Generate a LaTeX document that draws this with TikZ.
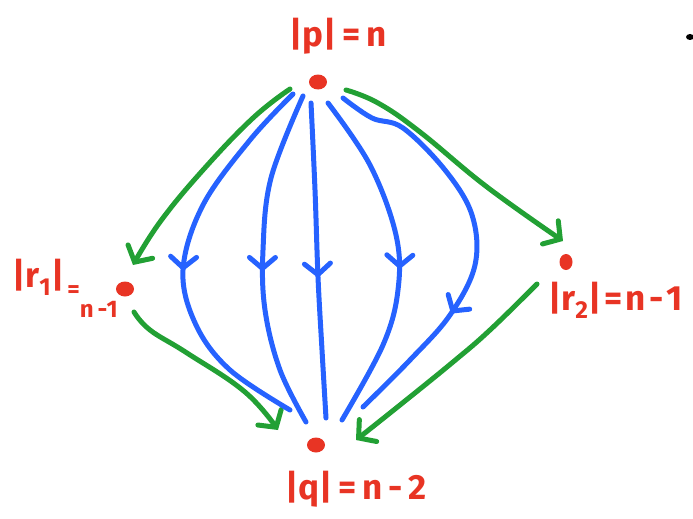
\documentclass[tikz,border=0pt]{standalone}
\usepackage{fontspec}
\setmainfont{Fira Sans}
\usetikzlibrary{arrows.meta,decorations.markings,shapes.geometric}
\definecolor{hred}{RGB}{232,52,36}
\definecolor{hgreen}{RGB}{34,160,52}
\definecolor{hblue}{RGB}{38,98,255}
\tikzset{
  dot/.style={fill=hred,draw=none,ellipse,inner sep=0pt,minimum width=18pt,minimum height=15pt},
  lab/.style={text=hred,font=\fontsize{35}{40}\selectfont\bfseries,inner sep=0pt},
  garrow/.style={draw=hgreen,line width=5pt,line cap=round,line join=round,
    -{Straight Barb[length=12pt,width=28pt,line cap=round]}},
  bline/.style={draw=hblue,line width=5pt,line cap=round,line join=round},
  midarrow/.style={postaction={decorate},decoration={markings,
    mark=at position #1 with {\arrow[hblue,line width=5pt]{Straight Barb[length=11pt,width=26pt,line cap=round]}}}}
}
\begin{document}
\begin{tikzpicture}[x=1pt,y=-1pt]
\useasboundingbox (0,0) rectangle (693,519);
% vertices
\node[dot] (p) at (318,82) {};
\node[dot] (r1) at (125,289) {};
\node[dot,minimum width=13pt,minimum height=16pt] (r2) at (566,262) {};
\node[dot] (q) at (316,445) {};
\fill[black] (690,37) ellipse (4pt and 3pt);
% labels
\node[lab] (pl) at (338,36) {|p|\,=\,n};
\node[lab,anchor=west] (r1l) at (12,288) {|r\textsubscript{1}|\kern3pt\raisebox{-10pt}{\fontsize{24}{26}\selectfont =}\raisebox{-30pt}{\fontsize{24}{28}\selectfont n\,-\kern-1pt1}};
\node[lab,anchor=west] (r2l) at (548,300) {|r\textsubscript{2}|\kern3pt=\kern3pt n\kern3pt-\kern3pt1};
\node[lab] (ql) at (356,489) {|q|\,=\,n\,-\,2};
% endpoints
\coordinate (a1) at (290,89);  \coordinate (a2) at (133,265);
\coordinate (b1) at (346,90);  \coordinate (b2) at (563,241);
\coordinate (c1) at (134,312); \coordinate (c2) at (278,430);
\coordinate (d1) at (537,284); \coordinate (d2) at (356,440);
% green arrows
\draw[garrow] plot[smooth,tension=0.7] coordinates {(a1) (253,118) (203,170) (160,222) (a2)};
\draw[garrow] plot[smooth,tension=0.7] coordinates {(b1) (378,103) (420,132) (487,187) (b2)};
\draw[garrow] plot[smooth,tension=0.7] coordinates {(c1) (150,330) (187,353) (245,392) (c2)};
\draw[garrow] plot[smooth,tension=0.7] coordinates {(d1) (490,330) (453,362) (400,405) (d2)};
% blue paths p -> q
\coordinate (e1) at (293,94);  \coordinate (e2) at (290,410);
\coordinate (f1) at (303,96);  \coordinate (f2) at (306,422);
\coordinate (g1) at (311,103); \coordinate (g2) at (326,418);
\coordinate (h1) at (328,103); \coordinate (h2) at (342,420);
\coordinate (k1) at (343,98);  \coordinate (k2) at (363,407);
\draw[bline,midarrow=0.535] plot[smooth,tension=0.6] coordinates {(e1) (250,140) (203,205) (183,270) (196,325) (230,370) (e2)};
\draw[bline,midarrow=0.535] plot[smooth,tension=0.6] coordinates {(f1) (271,178) (263,250) (265,310) (280,370) (f2)};
\draw[bline,midarrow=0.555] plot[smooth,tension=0.6] coordinates {(g1) (315,190) (318,277) (322,350) (g2)};
\draw[bline,midarrow=0.53] plot[smooth,tension=0.6] coordinates {(h1) (370,165) (396,235) (398,290) (383,345) (h2)};
\draw[bline,midarrow=0.69] plot[smooth,tension=0.6] coordinates {(k1) (372,118) (403,128) (445,170) (472,215) (475,265) (450,315) (410,360) (k2)};
\end{tikzpicture}
\end{document}
